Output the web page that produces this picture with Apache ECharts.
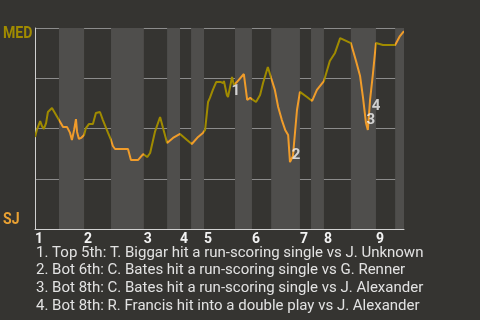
<!DOCTYPE html>
<html>
<head>
<meta charset="utf-8">
<script src="https://cdn.jsdelivr.net/npm/echarts@6/dist/echarts.min.js"></script>
<style>
html,body{margin:0;padding:0;background:#353431;}
#c{width:480px;height:320px;}
</style>
</head>
<body>
<div id="c"></div>
<script>
// Half-inning boundaries (play index, 0..100)
var halfInnings = [0, 6.5, 13.3, 20.6, 29.5, 35.8, 39.3, 42.3, 45.8, 54.2, 58.8, 64.0, 71.8, 74.8, 78.3, 85.6, 92.4, 97.6, 100];
var inningStarts = [0, 13.3, 29.5, 39.3, 45.8, 58.8, 71.8, 78.3, 92.4];
var inningLabels = ['1', '2', '3', '4', '5', '6', '7', '8', '9'];
// MED win probability (%) by play
var winProb = [[0,45.8],[0.5,49.3],[1.4,53.7],[1.9,51.2],[2.4,49.8],[3.0,52.7],[3.5,58.2],[4.6,60.2],[5.4,57.7],[6.5,54.2],[7.6,50.7],[8.7,50.7],[9.5,47.8],[10.0,44.3],[10.6,49.3],[11.1,54.7],[11.4,48.3],[11.9,44.8],[12.5,45.3],[13.3,46.8],[13.8,50.2],[14.6,52.2],[15.7,52.2],[16.5,57.7],[17.6,58.2],[18.4,54.2],[19.8,47.8],[20.6,44.3],[21.1,41.3],[21.7,39.8],[25.2,39.8],[26.0,34.3],[26.6,34.3],[27.9,34.3],[29.3,37.3],[30.4,35.8],[31.2,37.8],[32.5,48.3],[33.9,55.7],[34.7,50.2],[35.8,42.8],[37.4,45.3],[39.3,47.3],[41.2,44.3],[42.5,42.3],[44.2,45.8],[45.5,47.8],[46.1,49.3],[46.9,63.2],[47.4,65.2],[48.2,69.2],[49.1,73.1],[50.4,73.1],[51.0,72.6],[51.2,73.6],[52.0,66.7],[52.3,65.7],[52.8,70.1],[53.4,75.6],[53.9,71.6],[54.7,73.1],[56.6,77.1],[57.5,64.2],[58.3,65.2],[59.9,63.2],[61.0,66.7],[61.8,72.6],[63.1,80.6],[64.0,75.1],[65.0,69.2],[65.9,60.7],[66.9,54.2],[67.8,49.3],[68.6,46.8],[69.1,33.3],[69.9,36.3],[71.0,59.2],[71.8,68.2],[73.7,65.7],[75.1,63.7],[76.4,69.2],[78.3,73.6],[79.9,83.6],[81.3,87.6],[82.7,95.0],[85.6,92.5],[87.0,83.6],[88.1,76.1],[88.9,65.2],[89.7,52.7],[90.2,49.3],[90.8,64.2],[91.6,77.6],[92.4,92.5],[94.3,91.5],[97.6,91.5],[98.9,96.0],[100,98.5]];
// Key events
var eventPoints = [[52.8,70.1],[69.1,33.3],[90.2,49.3],[90.8,64.2]];
var eventLabels = ['1', '2', '3', '4'];
var eventTexts = [
  '1. Top 5th: T. Biggar hit a run-scoring single vs J. Unknown',
  '2. Bot 6th: C. Bates hit a run-scoring single vs G. Renner',
  '3. Bot 8th: C. Bates hit a run-scoring single vs J. Alexander',
  '4. Bot 8th: R. Francis hit into a double play vs J. Alexander'
];
var teamTop = 'MED', teamBottom = 'SJ';

var OLIVE = '#a08b00', ORANGE = '#f09c2a';
var labelOffsets = [[6,3.5],[6,-7],[3,-9.5],[6,6]];

var pieces = [];
var bands = [];
for (var i = 0; i < halfInnings.length - 1; i++) {
  var p = {gte: halfInnings[i], color: i % 2 === 0 ? OLIVE : ORANGE};
  if (i === halfInnings.length - 2) p.lte = halfInnings[i+1]; else p.lt = halfInnings[i+1];
  pieces.push(p);
  if (i % 2 === 1) bands.push([{xAxis: halfInnings[i]}, {xAxis: halfInnings[i+1]}]);
}

var chart = echarts.init(document.getElementById('c'), null, {renderer: 'canvas'});
var graphics = [
  {type:'text', x:3, y:33.5, scaleX:0.83, style:{text:teamTop, fill:OLIVE, font:'bold 17px Roboto', verticalAlign:'middle'}},
  {type:'text', x:3, y:220, scaleX:0.83, style:{text:teamBottom, fill:'#e9a133', font:'bold 17px Roboto', verticalAlign:'middle'}}
];
eventTexts.forEach(function(t, k){
  graphics.push({type:'text', x:36, y:253 + k*17.7, style:{text:t, fill:'#e2e2e2', font:'15px Roboto', verticalAlign:'middle'}});
});

function inningFor(v){
  for (var k = 0; k < inningStarts.length; k++) if (Math.abs(inningStarts[k] - v) < 0.05) return inningLabels[k];
  return '';
}

chart.setOption({
  backgroundColor: '#353431',
  animation: false,
  grid: {left:35, right:76, top:28, bottom:91},
  xAxis: {
    type:'value', min:0, max:100,
    splitLine:{show:false},
    axisLine:{show:true, lineStyle:{color:'#d0d0d0', width:1}},
    axisTick:{show:false},
    axisLabel:{
      customValues: inningStarts,
      formatter: inningFor,
      color:'#f2f2f2', fontFamily:'Roboto', fontWeight:'bold', fontSize:14,
      align:'left', margin:3, showMinLabel:true, showMaxLabel:true, hideOverlap:false
    }
  },
  yAxis: {
    type:'value', min:0, max:100, interval:25,
    axisLine:{show:true, lineStyle:{color:'#d0d0d0', width:1}},
    axisTick:{show:false},
    axisLabel:{show:false},
    splitLine:{show:true, lineStyle:{color:'#8c8c8c', width:1}}
  },
  visualMap: {type:'piecewise', show:false, dimension:0, seriesIndex:0, pieces:pieces},
  series: [
    {type:'line', data:winProb, symbol:'none', lineStyle:{width:2}, z:3},
    {type:'scatter', symbolSize:0, z:4,
      data: eventPoints.map(function(p, k){
        return {value:p, label:{show:true, formatter:eventLabels[k], offset:labelOffsets[k]}};
      }),
      label:{position:'inside', color:'#f4f4f4', fontFamily:'Roboto', fontWeight:'bold', fontSize:15},
      markArea:{silent:true, itemStyle:{color:'#4f4e4c'}, data:bands}
    }
  ],
  graphic: graphics
});
</script>
</body>
</html>
